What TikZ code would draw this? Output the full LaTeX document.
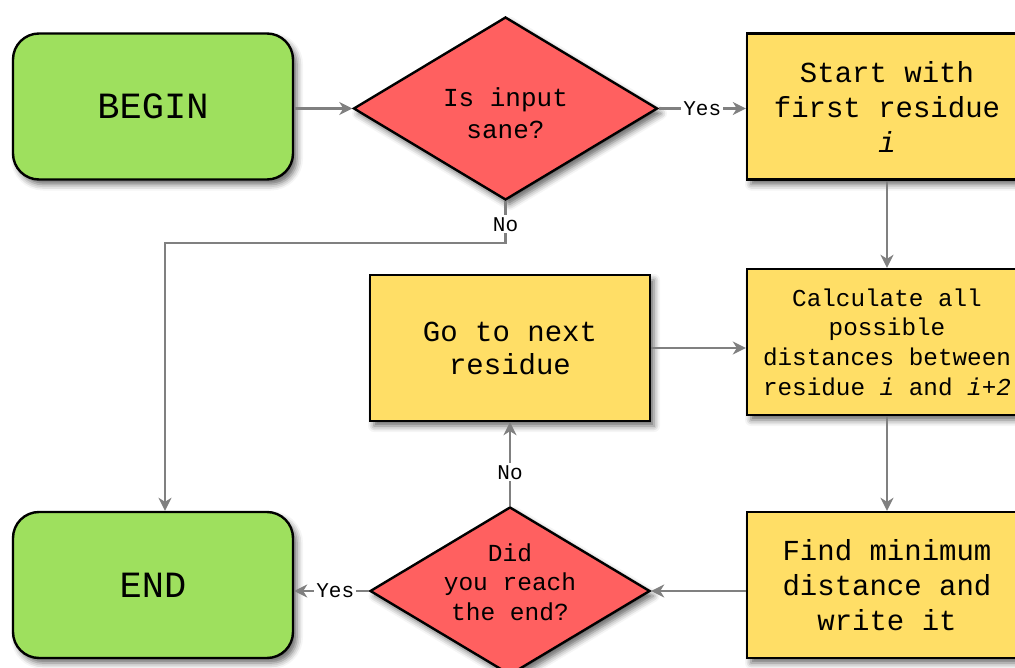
\documentclass[tikz,border=0pt]{standalone}
\usepackage{fontspec}
\newfontfamily\mono{Liberation Mono}
\usetikzlibrary{shapes.geometric,arrows.meta,shadows.blur}
\definecolor{boxgreen}{RGB}{158,224,94}
\definecolor{boxred}{RGB}{255,96,96}
\definecolor{boxyellow}{RGB}{255,222,102}
\definecolor{arrgray}{RGB}{128,128,128}
\begin{document}
\begin{tikzpicture}[x=1pt,y=-1pt,
  shade/.style={blur shadow={shadow xshift=4pt,shadow yshift=-5pt,shadow blur radius=6pt,shadow opacity=60}},
  term/.style={draw=black,line width=2.4pt,fill=boxgreen,rounded corners=26pt,minimum width=280pt,minimum height=146pt,inner sep=0pt,align=center,font=\mono\fontsize{37}{44}\selectfont,shade},
  proc/.style={draw=black,line width=2.4pt,fill=boxyellow,minimum width=280pt,minimum height=146pt,inner sep=0pt,align=center,shade},
  dec/.style={diamond,draw=black,line width=2.4pt,fill=boxred,inner sep=0pt,shade},
  dtext/.style={align=center,inner sep=0pt},
  arr/.style={draw=arrgray,line width=2.4pt,-{Stealth[length=13pt,width=13pt,inset=4pt]}},
  lbl/.style={fill=white,inner sep=2pt,font=\mono\fontsize{21}{25}\selectfont,text=black},
]
\useasboundingbox (0,0) rectangle (1015,668);
\clip (0,0) rectangle (1015,668);

\node[term] (begin) at (153,106.5) {\raisebox{-3pt}{BEGIN}};
\node[dec,minimum width=304pt,minimum height=183pt] (d1) at (505.5,108.5) {};
\node[dtext,font=\mono\fontsize{26}{32}\selectfont] (d1t) at (505.5,113.5) {Is input\\sane?};
\node[proc,font=\mono\fontsize{29}{35}\selectfont] (start) at (887,106.5) {Start with\\first residue\\\textit{i}};
\node[proc,font=\mono\fontsize{24.3}{29.7}\selectfont] (calc) at (887,342) {Calculate all\\possible\\distances between\\residue \textit{i} and \textit{i+2}};
\node[proc,font=\mono\fontsize{29}{33}\selectfont] (go) at (510,348) {Go to next\\residue};
\node[proc,font=\mono\fontsize{29}{35}\selectfont] (find) at (887,585) {Find minimum\\distance and\\write it};
\node[dec,minimum width=280pt,minimum height=168pt] (d2) at (510,591) {};
\node[dtext,font=\mono\fontsize{24.5}{29.5}\selectfont] (d2t) at (510,582) {Did\\you reach\\the end?};
\node[term] (end) at (153,585) {\raisebox{-4pt}{END}};

\coordinate (turn) at (505.5,243);

\draw[arr] (begin.east |- d1.west) -- (d1.west);
\draw[arr] (d1.east) -- node[lbl]{Yes} (d1.east -| start.west);
\draw[arr] (d1.south) -- node[lbl,pos=0.55]{No} (turn) -| ([xshift=12pt]end.north);
\draw[arr] (start.south) -- (calc.north);
\draw[arr] (go.east) -- (go.east -| calc.west);
\draw[arr] (calc.south) -- (find.north);
\draw[arr] (d2.east -| find.west) -- (d2.east);
\draw[arr] (d2.west) -- node[lbl,pos=0.45]{Yes} (d2.west -| end.east);
\draw[arr] (d2.north) -- node[lbl,pos=0.4]{No} (go.south);
\end{tikzpicture}
\end{document}
